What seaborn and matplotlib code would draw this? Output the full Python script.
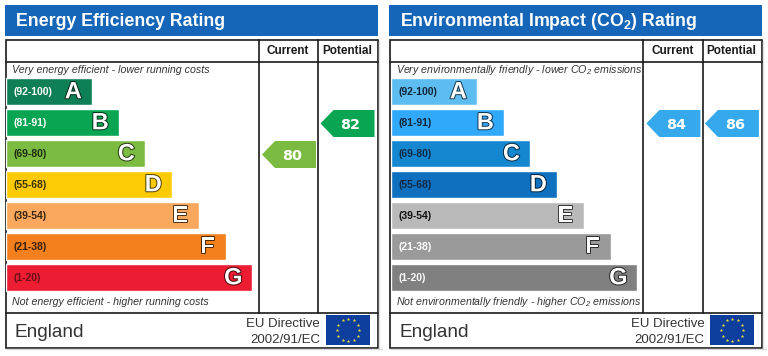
import numpy as np
import matplotlib
matplotlib.use("Agg")
import matplotlib.pyplot as plt
import matplotlib.patheffects as pe
from matplotlib.colors import to_rgb
from matplotlib.patches import Rectangle, Polygon
import pandas as pd
import seaborn as sns

# data
letters = ["A", "B", "C", "D", "E", "F", "G"]
bands = ["(92-100)", "(81-91)", "(69-80)", "(55-68)", "(39-54)", "(21-38)", "(1-20)"]
band_low = [92, 81, 69, 55, 39, 21, 1]
bar_lengths = [86, 113, 139, 166, 193, 220, 246]

energy_colors = ["#0f7f55", "#0aa553", "#7cbb42", "#fdcb05", "#f9a85d", "#f3801c", "#ec1c32"]
energy_label_colors = ["white", "white", "#1c2a10", "#3a3000", "#3a2410", "#3a2008", "#6a0f18"]
env_colors = ["#5dbcf0", "#31a9fa", "#1587d0", "#0f70c0", "#b9b9b9", "#9a9a9a", "#808080"]
env_label_colors = ["#10253a", "#10253a", "#0c2a44", "#0c2a44", "#111111", "white", "white"]

energy_current, energy_potential = 80, 82
env_current, env_potential = 84, 86
energy_arrow_colors = ["#7cbb42", "#0aa553"]
env_arrow_colors = ["#36a9ed", "#36a9ed"]

columns = ["Current", "Potential"]
energy_title = "Energy Efficiency Rating"
env_title = r"Environmental Impact (CO$_2$) Rating"
energy_top = "Very energy efficient - lower running costs"
energy_bottom = "Not energy efficient - higher running costs"
env_top = r"Very environmentally friendly - lower CO$_2$ emissions"
env_bottom = r"Not environmentally friendly - higher CO$_2$ emissions"

sns.set_theme(style="white")
plt.rcParams["font.family"] = ["Liberation Sans", "DejaVu Sans"]
plt.rcParams["mathtext.default"] = "regular"

W, H = 768, 356
BLUE = "#1565b9"
fig = plt.figure(figsize=(W / 100, H / 100), dpi=100, facecolor="white")
bg = fig.add_axes([0, 0, 1, 1])
bg.set_xlim(0, W)
bg.set_ylim(H, 0)
bg.axis("off")


def band_of(rating):
    for i, low in enumerate(band_low):
        if rating >= low:
            return i
    return len(band_low) - 1


def arrow(x0, rating, color):
    yc = 92.5 + 31 * band_of(rating)
    pts = [(x0, yc), (x0 + 13, yc - 13.5), (x0 + 54, yc - 13.5), (x0 + 54, yc + 13.5), (x0 + 13, yc + 13.5)]
    bg.add_patch(Polygon(pts, closed=True, fc=color, ec="none", zorder=3))
    bg.text(x0 + 30, yc + 5.5, str(rating), color="white", fontsize=10.4, fontweight="bold",
            family="DejaVu Sans", ha="center", va="baseline", zorder=4)


def panel(dx, bar_x, title, top, bottom, colors, label_colors, current, potential, arrow_colors, right):
    # title strip and shadow
    bg.add_patch(Rectangle((dx + 4.5, 4.5), right - 4.5, 31, fc=BLUE, ec="none"))
    bg.text(dx + 16, 26, title, color="white", fontsize=12.8, fontweight="bold", va="baseline")
    bg.plot([dx + 6, dx + right + 4], [349, 349], color="#d8d8d8", lw=1)
    bg.plot([dx + right + 1.5, dx + right + 1.5], [41, 348], color="#e2e2e2", lw=1)

    # frame
    lc = "#1a1a1a"
    bg.add_patch(Rectangle((dx + 5.5, 39.5), right - 5.5, 308, fc="none", ec=lc, lw=1.2))
    bg.plot([dx + 5.5, dx + right], [61.5, 61.5], color=lc, lw=1.2)
    bg.plot([dx + 5.5, dx + right], [312.5, 312.5], color=lc, lw=1.2)
    for x in (258.5, 318.3):
        bg.plot([dx + x, dx + x], [39.5, 312.5], color=lc, lw=1.2)

    for name, x in zip(columns, (288, 346.8)):
        bg.text(dx + x, 54.3, name, color="#1a1a1a", fontsize=8.5, fontweight="bold", ha="center", va="baseline")

    bg.text(dx + 11.5, 72.7, top, color="#333333", fontsize=7.7, style="italic", va="baseline")
    bg.text(dx + 11.5, 305.3, bottom, color="#333333", fontsize=7.7, style="italic", va="baseline")

    arrow(dx + 262, current, arrow_colors[0])
    arrow(dx + 320.5, potential, arrow_colors[1])

    # footer
    bg.text(dx + 15, 336.7, "England", color="#333333", fontsize=13.7, va="baseline")
    bg.text(dx + 320, 326.7, "EU Directive", color="#333333", fontsize=9.5, ha="right", va="baseline")
    bg.text(dx + 320, 342.7, "2002/91/EC", color="#333333", fontsize=9.5, ha="right", va="baseline")
    bg.add_patch(Rectangle((dx + 326, 315), 44, 30, fc="#0f3f9e", ec="none"))
    ang = np.deg2rad(np.arange(0, 360, 30))
    bg.scatter(dx + 348 + 11 * np.cos(ang), 330 + 11 * np.sin(ang), marker="*", s=7,
               color="#f2e23a", linewidths=0, zorder=4)

    # bars
    ax = fig.add_axes([bar_x / W, 1 - 293 / H, 252 / W, 217 / H])
    df = pd.DataFrame({"band": bands, "length": bar_lengths})
    sns.barplot(data=df, x="length", y="band", hue="band", palette=colors, legend=False,
                width=0.88, saturation=1, ax=ax)
    ax.set_xlim(0, 252)
    ax.set_ylim(6.5, -0.5)
    ax.axis("off")
    for i, (lab, let) in enumerate(zip(bands, letters)):
        ax.text(8, i + 0.02, lab, color=label_colors[i], fontsize=7.5, fontweight="bold", va="center")
        dark = tuple(c * 0.3 for c in to_rgb(colors[i]))
        ax.text(bar_lengths[i] - 18.5, i + 0.01, let, color="white", fontsize=17, fontweight="bold",
                ha="center", va="center",
                path_effects=[pe.withStroke(linewidth=1.4, foreground=dark)])


panel(0, 5.8, energy_title, energy_top, energy_bottom, energy_colors, energy_label_colors,
      energy_current, energy_potential, energy_arrow_colors, 377.5)
panel(384.4, 390.9, env_title, env_top, env_bottom, env_colors, env_label_colors,
      env_current, env_potential, env_arrow_colors, 377.3)

fig.savefig("out.png", dpi=100)
